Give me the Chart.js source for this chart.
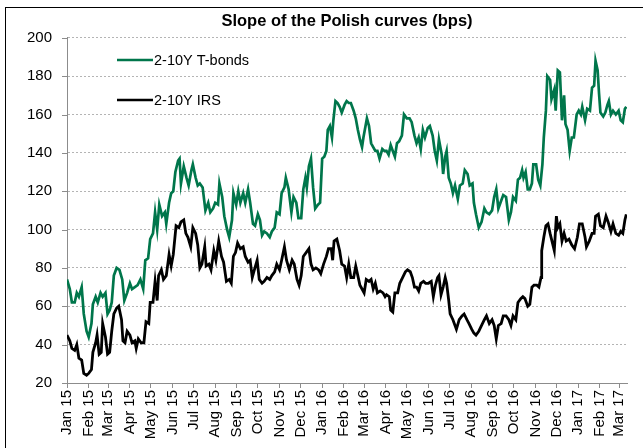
<!DOCTYPE html>
<html>
<head>
<meta charset="utf-8">
<script src="https://cdn.jsdelivr.net/npm/chart.js@4/dist/chart.umd.min.js"></script>
<style>
  body { margin: 0; background: #fff; }
  #wrap { position: relative; width: 643px; height: 448px; overflow: hidden; }
  #frame { position: absolute; left: 5px; top: 7px; width: 700px; height: 500px;
           border-top: 1px solid #000; border-left: 1px solid #000; }
  canvas { position: absolute; left: 0; top: 0; }
</style>
</head>
<body>
<div id="wrap">
  <div id="frame"></div>
  <canvas id="myChart" width="643" height="448"></canvas>
</div>
<script>
// days counted from 1 Jan 2015
var monthDays = [0, 31, 59, 90, 120, 151, 181, 212, 243, 273, 304, 334,
  365, 396, 425, 456, 486, 517, 547, 578, 609, 639, 670, 700, 731, 762, 790];
var monthLabels = ['Jan 15', 'Feb 15', 'Mar 15', 'Apr 15', 'May 15', 'Jun 15', 'Jul 15',
  'Aug 15', 'Sep 15', 'Oct 15', 'Nov 15', 'Dec 15', 'Jan 16', 'Feb 16', 'Mar 16', 'Apr 16',
  'May 16', 'Jun 16', 'Jul 16', 'Aug 16', 'Sep 16', 'Oct 16', 'Nov 16', 'Dec 16', 'Jan 17',
  'Feb 17', 'Mar 17'];

// 2-10Y T-bonds
var tbDays = [0, 4, 7, 11, 14, 17, 21, 24, 28, 31, 35, 37, 41, 44, 48, 51, 55, 58, 61, 64, 67, 71, 75, 79, 82, 86, 90, 93, 97, 101, 105, 109, 112, 116, 119, 123, 126, 129, 132, 136, 140, 142, 146, 149, 152, 155, 159, 161, 163, 167, 171, 174, 178, 180, 184, 187,
  190, 194, 198, 202, 205, 209, 212, 216, 218, 222, 225, 229, 232, 236, 238, 242, 245, 248, 252, 255, 259, 262, 266, 269, 273, 276, 279, 282, 286, 290, 293, 297, 300, 304, 307, 311, 313, 317, 321, 324, 328, 331, 335, 338, 341, 343, 346, 349, 352, 355, 359, 362, 365, 368, 371, 373, 376, 379, 381, 384, 387,
  390, 393, 397, 400, 403, 406, 410, 413, 416, 419, 422, 424, 427, 429, 432, 435, 438, 441, 444, 447, 451, 454, 457, 460, 463, 466, 469, 472, 475, 479, 482, 486, 490, 493, 497, 500, 503, 506, 509, 512, 516, 519, 523, 526, 529, 532, 536, 538, 541, 543, 546, 549, 552, 555, 559, 562, 566, 569, 573, 576, 580, 582, 585, 589,
  593, 597, 600, 604, 608, 611, 614, 617, 621, 624, 628, 632, 635, 638, 642, 645, 648, 651, 653, 656, 659, 662, 665, 667, 671, 674, 677, 680, 682, 685, 687, 691, 693, 697, 699, 702, 705, 708, 711, 713, 716, 719, 722, 725, 729, 732, 735, 737, 741, 744, 748, 751, 754, 756, 759, 761, 763, 767, 770, 773, 775, 778, 781, 785, 789, 792, 795, 798, 800];
var tbValues = [74, 69, 62, 62, 67, 65, 70, 56, 47, 44, 51, 61, 65, 62, 67, 65, 67, 56, 58, 62, 76, 80, 79, 74, 63, 67, 72, 69, 70, 71, 74, 69, 84, 85, 95, 98, 109, 100, 113, 107, 109, 103, 114, 119, 120, 130, 136, 137, 124, 133, 127, 123, 131, 134, 127, 123,
  124, 122, 110, 114, 109, 111, 114, 113, 124, 117, 107, 100, 96, 105, 119, 113, 120, 114, 119, 114, 121, 114, 103, 102, 108, 105, 97, 99, 98, 96, 99, 101, 109, 108, 119, 122, 127, 121, 109, 117, 114, 106, 106, 121, 127, 122, 133, 137, 122, 111, 113, 114, 137, 138, 141, 152, 154, 148, 157, 167, 166,
  164, 161, 165, 167, 166, 166, 162, 158, 152, 147, 143, 148, 154, 158, 154, 145, 143, 141, 141, 137, 142, 141, 141, 139, 144, 141, 138, 145, 146, 149, 160, 158, 158, 156, 149, 145, 148, 142, 152, 148, 153, 154, 149, 141, 136, 147, 139, 129, 138, 141, 127, 124, 119, 123, 116, 123, 124, 131, 129, 123, 124, 114, 108, 101,
  104, 111, 109, 108, 110, 117, 121, 111, 115, 118, 117, 105, 109, 117, 115, 126, 127, 131, 127, 130, 121, 121, 124, 134, 134, 126, 123, 134, 148, 162, 180, 178, 168, 173, 162, 183, 182, 157, 170, 155, 152, 141, 148, 148, 160, 162, 160, 164, 157, 163, 162, 174, 175, 188, 183, 171, 161, 159, 161, 165, 167, 160, 162, 160, 162, 157, 156, 163, 164];

// 2-10Y IRS
var irsDays = [0, 4, 7, 11, 14, 17, 21, 24, 28, 31, 35, 37, 41, 43, 46, 49, 51, 55, 58, 61, 64, 67, 71, 74, 78, 80, 83, 86, 90, 93, 97, 99, 102, 106, 110, 113, 117, 119, 123, 126, 129, 131, 135, 138, 142, 146, 149, 152, 156, 160, 163, 167, 170, 173, 177, 180, 184, 187, 190,
  193, 197, 199, 203, 206, 210, 213, 217, 221, 224, 228, 232, 235, 238, 241, 244, 248, 252, 255, 259, 262, 265, 268, 272, 275, 279, 282, 286, 290, 293, 297, 300, 304, 307, 311, 314, 318, 322, 325, 329, 332, 335, 338, 342, 346, 349, 352, 356, 360, 363, 367, 371, 374, 378, 380, 382, 386,
  390, 393, 397, 400, 403, 406, 410, 413, 416, 419, 422, 425, 428, 432, 435, 438, 441, 444, 448, 452, 455, 457, 461, 463, 466, 469, 473, 476, 480, 484, 487, 491, 494, 497, 500, 503, 506, 510, 513, 517, 521, 524, 527, 530, 532, 535, 538, 541, 543, 546, 548, 552, 555, 557, 561, 565, 568, 572, 575, 579, 582, 585, 589,
  593, 597, 600, 604, 608, 611, 614, 617, 621, 624, 628, 632, 635, 638, 642, 645, 649, 652, 655, 659, 662, 665, 668, 672, 675, 678, 679, 682, 685, 688, 691, 693, 697, 700, 702, 705, 708, 711, 714, 718, 722, 726, 730, 733, 737, 741, 743, 747, 751, 754, 756, 760, 763, 767, 771, 774, 778, 781, 785, 789, 792, 795, 798, 800];
var irsValues = [45, 42, 38, 37, 40, 33, 32, 25, 24, 25, 27, 36, 41, 45, 35, 36, 51, 44, 35, 36, 47, 56, 59, 60, 53, 42, 41, 47, 45, 41, 42, 38, 43, 41, 41, 52, 51, 62, 62, 73, 63, 76, 79, 74, 76, 87, 81, 87, 102, 101, 104, 105, 98, 96, 91, 101, 98, 92, 80,
  82, 91, 81, 82, 79, 89, 84, 94, 86, 83, 73, 74, 72, 86, 88, 93, 90, 91, 86, 83, 84, 75, 79, 84, 74, 72, 73, 75, 74, 76, 78, 82, 79, 84, 91, 84, 79, 84, 82, 74, 71, 76, 86, 88, 90, 82, 79, 80, 79, 77, 82, 86, 90, 90, 84, 94, 95,
  89, 82, 81, 75, 82, 75, 75, 81, 76, 71, 69, 67, 74, 73, 74, 69, 72, 67, 68, 67, 65, 66, 65, 58, 57, 67, 67, 72, 75, 78, 79, 78, 75, 70, 70, 68, 72, 73, 72, 72, 73, 65, 71, 75, 76, 66, 70, 75, 72, 63, 56, 53, 50, 48, 53, 55, 56, 53, 51, 48, 46, 45, 47,
  50, 53, 55, 51, 53, 50, 43, 50, 51, 55, 55, 53, 50, 55, 53, 62, 64, 65, 64, 60, 61, 70, 71, 71, 70, 75, 89, 96, 102, 103, 98, 95, 89, 107, 101, 103, 94, 98, 94, 95, 92, 90, 96, 103, 103, 96, 91, 94, 98, 98, 107, 108, 102, 101, 107, 104, 99, 103, 98, 97, 99, 98, 105, 108];

var seriesNames = ['2-10Y T-bonds', '2-10Y IRS'];
var seriesColors = ['#00764b', '#000000'];

function toPoints(days, values) {
  return days.map(function(d, i) { return {x: d, y: values[i]}; });
}

// legend sits inside the plot, plus small tick marks on the y axis
var extras = {
  id: 'extras',
  afterDraw: function(chart) {
    var ctx = chart.ctx;
    var yScale = chart.scales.y;
    var left = chart.chartArea.left;
    ctx.save();
    ctx.strokeStyle = '#8c8c8c';
    ctx.lineWidth = 1;
    yScale.ticks.forEach(function(t) {
      var py = Math.round(yScale.getPixelForValue(t.value)) + 0.5;
      ctx.beginPath();
      ctx.moveTo(left - 5, py);
      ctx.lineTo(left, py);
      ctx.stroke();
    });
    ctx.font = '14.5px "Liberation Sans", Arial, sans-serif';
    ctx.textBaseline = 'middle';
    chart.data.datasets.forEach(function(ds, i) {
      var ly = 60 + i * 40;
      ctx.strokeStyle = ds.borderColor;
      ctx.lineWidth = 2.5;
      ctx.beginPath();
      ctx.moveTo(117, ly);
      ctx.lineTo(153, ly);
      ctx.stroke();
      ctx.fillStyle = '#000';
      ctx.fillText(ds.label, 154, ly + 1);
    });
    ctx.restore();
  }
};

var ctx = document.getElementById('myChart');
var myChart = new Chart(ctx, {
  type: 'line',
  data: {
    datasets: [
      {
        label: seriesNames[0],
        data: toPoints(tbDays, tbValues),
        borderColor: seriesColors[0],
        borderWidth: 2.7,
        pointRadius: 0,
        tension: 0,
        fill: false
      },
      {
        label: seriesNames[1],
        data: toPoints(irsDays, irsValues),
        borderColor: seriesColors[1],
        borderWidth: 2.8,
        pointRadius: 0,
        tension: 0,
        fill: false
      }
    ]
  },
  options: {
    responsive: false,
    animation: false,
    layout: { padding: { left: 0, right: 16, top: 0, bottom: 0 } },
    plugins: {
      legend: { display: false },
      tooltip: { enabled: false },
      title: {
        display: true,
        text: 'Slope of the Polish curves (bps)',
        fullSize: false,
        color: '#000',
        font: { family: '"Liberation Sans", Arial, sans-serif', size: 16.5, weight: 'bold', lineHeight: 1.2 },
        padding: { top: 12, bottom: 6 }
      }
    },
    scales: {
      x: {
        type: 'linear',
        min: 0,
        max: 801,
        afterBuildTicks: function(axis) {
          axis.ticks = monthDays.map(function(d) { return {value: d}; });
        },
        afterFit: function(axis) { axis.height = 65; },
        ticks: {
          autoSkip: false,
          minRotation: 90,
          maxRotation: 90,
          padding: 2,
          color: '#000',
          font: { family: '"Liberation Sans", Arial, sans-serif', size: 15 },
          callback: function(value, index) { return monthLabels[index]; }
        },
        grid: { drawOnChartArea: false, drawTicks: true, tickLength: 5, color: '#8c8c8c' },
        border: { color: '#8c8c8c', width: 1 }
      },
      y: {
        min: 20,
        max: 200,
        afterFit: function(axis) { axis.width = 67; },
        ticks: {
          stepSize: 20,
          padding: 15,
          color: '#000',
          font: { family: '"Liberation Sans", Arial, sans-serif', size: 15 }
        },
        grid: { drawTicks: false, color: '#b4b4b4', lineWidth: 1 },
        border: { color: '#8c8c8c', width: 1, dash: [2, 2] }
      }
    }
  },
  plugins: [extras]
});
</script>
</body>
</html>
